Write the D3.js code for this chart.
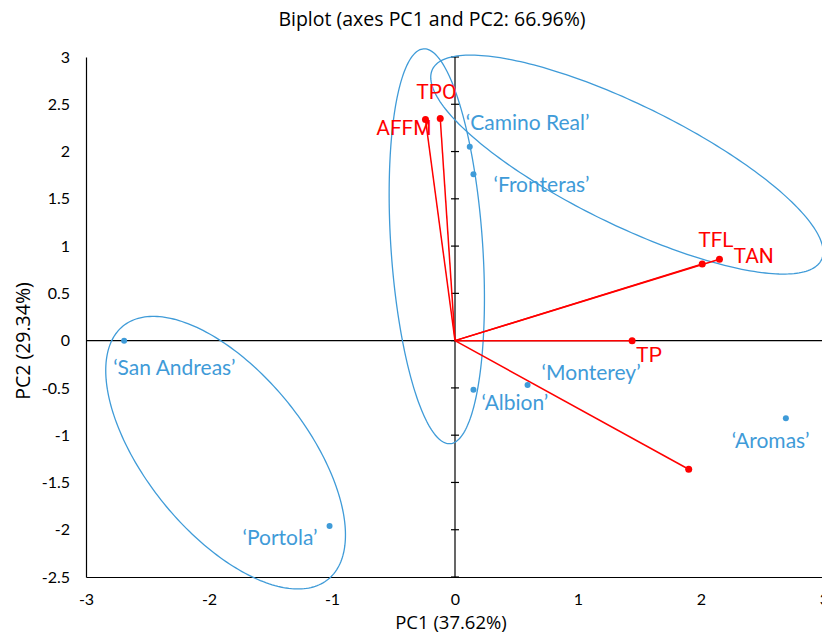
<!DOCTYPE html>
<html>
<head>
<meta charset="utf-8">
<script src="https://cdn.jsdelivr.net/npm/d3@7"></script>
<style>
  body { margin: 0; background: #fff; }
  text { font-family: Lato, "DejaVu Sans", sans-serif; }
</style>
</head>
<body>
<div id="chart"></div>
<script>
// observations (cultivars) on PC1/PC2
var obsNames = ["‘San Andreas’", "‘Portola’", "‘Camino Real’", "‘Fronteras’", "‘Albion’", "‘Monterey’", "‘Aromas’"];
var obsPC1 = [-2.69, -1.02, 0.12, 0.15, 0.15, 0.59, 2.69];
var obsPC2 = [0.00, -1.96, 2.05, 1.76, -0.52, -0.47, -0.82];

// variable loadings (red arrows)
var varNames = ["TPO", "AFFM", "TFL", "TAN", "TP", ""];
var varPC1 = [-0.12, -0.24, 2.01, 2.15, 1.44, 1.90];
var varPC2 = [2.35, 2.34, 0.81, 0.86, 0.00, -1.36];

// ellipses: centre + two conjugate half axes, in PC units
var ellCenters = [[-1.865, -1.185], [-0.148, 0.998], [1.398, 1.862]];
var ellAxisU = [[0.834, -1.339], [0.108, -2.088], [1.581, -1.008]];
var ellAxisV = [[-0.504, -0.534], [0.372, 0.033], [-0.213, -0.570]];

var xTicks = [-3, -2, -1, 0, 1, 2, 3];
var yTicks = [-2.5, -2, -1.5, -1, -0.5, 0, 0.5, 1, 1.5, 2, 2.5, 3];

// label placement (pixels from the point)
var obsLabelOff = [[-11, 26, "start"], [-12, 11, "end"], [-4, -25, "start"], [20, 9, "start"], [8, 12, "start"], [14, -14, "start"], [-54, 21, "start"]];
var varLabelOff = [[-24, -26, "start"], [6, 9, "end"], [-4, -24, "start"], [14, -3, "start"], [4, 14, "start"], [0, 0, "start"]];

var W = 822, H = 633;
var blue = "#3f9bd8", red = "#ff0000";
var titleFont = "'Open Sans', sans-serif";

var svg = d3.select("#chart").append("svg")
  .attr("width", W).attr("height", H);

var x = d3.scaleLinear().domain([-3, 3]).range([86, 824]);
var y = d3.scaleLinear().domain([-2.5, 3]).range([577, 57]);

// title
svg.append("text")
  .attr("x", 432).attr("y", 18)
  .attr("text-anchor", "middle").attr("dominant-baseline", "central")
  .style("font-family", titleFont)
  .style("font-size", "19.5px").attr("fill", "#000")
  .text("Biplot (axes PC1 and PC2: 66.96%)");

// left axis
var yAxis = svg.append("g").attr("transform", "translate(86,0)")
  .call(d3.axisLeft(y).tickValues(yTicks).tickSize(0).tickPadding(16)
    .tickFormat(function(d){ return String(d); }));
yAxis.select(".domain").attr("stroke", "#000").attr("stroke-width", 1.2);
yAxis.selectAll("text").style("font-size", "16px").style("font-family", "Lato, sans-serif").attr("fill", "#000");

// bottom axis
var xAxis = svg.append("g").attr("transform", "translate(0,577)")
  .call(d3.axisBottom(x).tickValues(xTicks).tickSize(0).tickPadding(17)
    .tickFormat(function(d){ return String(d); }));
xAxis.select(".domain").attr("stroke", "#000").attr("stroke-width", 1.2);
xAxis.selectAll("text").style("font-size", "16px").style("font-family", "Lato, sans-serif").attr("fill", "#000");

// zero lines
svg.append("line")
  .attr("x1", x(0)).attr("x2", x(0)).attr("y1", y(3)).attr("y2", y(-2.5))
  .attr("stroke", "#000").attr("stroke-width", 1.2);
svg.append("line")
  .attr("x1", x(-3)).attr("x2", x(3)).attr("y1", y(0)).attr("y2", y(0))
  .attr("stroke", "#000").attr("stroke-width", 1.2);
svg.selectAll(".ztick").data(yTicks).enter().append("line")
  .attr("class", "ztick")
  .attr("x1", x(0) - 4).attr("x2", x(0) + 4)
  .attr("y1", function(d){ return y(d); }).attr("y2", function(d){ return y(d); })
  .attr("stroke", "#000").attr("stroke-width", 1.2);

// axis titles
svg.append("text")
  .attr("x", 451).attr("y", 621)
  .attr("text-anchor", "middle").attr("dominant-baseline", "central")
  .style("font-family", titleFont)
  .style("font-size", "18.5px").text("PC1 (37.62%)");
svg.append("text")
  .attr("transform", "translate(22," + 341 + ") rotate(-90)")
  .attr("text-anchor", "middle").attr("dominant-baseline", "central")
  .style("font-family", titleFont)
  .style("font-size", "19.5px").text("PC2 (29.34%)");

// ellipses
var line = d3.line().x(function(d){ return x(d[0]); }).y(function(d){ return y(d[1]); })
  .curve(d3.curveLinearClosed);
for (var k = 0; k < ellCenters.length; k++) {
  var pts = d3.range(0, 240).map(function(i){
    var t = i / 240 * 2 * Math.PI;
    return [ellCenters[k][0] + ellAxisU[k][0] * Math.cos(t) + ellAxisV[k][0] * Math.sin(t),
            ellCenters[k][1] + ellAxisU[k][1] * Math.cos(t) + ellAxisV[k][1] * Math.sin(t)];
  });
  svg.append("path").attr("d", line(pts))
    .attr("fill", "none").attr("stroke", blue).attr("stroke-width", 1.3);
}

// variable vectors
for (var i = 0; i < varNames.length; i++) {
  svg.append("line")
    .attr("x1", x(0)).attr("y1", y(0))
    .attr("x2", x(varPC1[i])).attr("y2", y(varPC2[i]))
    .attr("stroke", red).attr("stroke-width", 1.5);
  svg.append("circle")
    .attr("cx", x(varPC1[i])).attr("cy", y(varPC2[i])).attr("r", 3.5)
    .attr("fill", red);
  if (varNames[i] != "") {
    svg.append("text")
      .attr("x", x(varPC1[i]) + varLabelOff[i][0])
      .attr("y", y(varPC2[i]) + varLabelOff[i][1])
      .attr("text-anchor", varLabelOff[i][2])
      .attr("dominant-baseline", "central")
      .style("font-family", "Roboto, sans-serif")
      .style("font-size", "21px").attr("fill", red)
      .text(varNames[i]);
  }
}

// observations
for (var i = 0; i < obsNames.length; i++) {
  svg.append("circle")
    .attr("cx", x(obsPC1[i])).attr("cy", y(obsPC2[i])).attr("r", 3)
    .attr("fill", blue);
  svg.append("text")
    .attr("x", x(obsPC1[i]) + obsLabelOff[i][0])
    .attr("y", y(obsPC2[i]) + obsLabelOff[i][1])
    .attr("text-anchor", obsLabelOff[i][2])
    .attr("dominant-baseline", "central")
    .style("font-size", "21px").attr("fill", blue)
    .text(obsNames[i]);
}
</script>
</body>
</html>
